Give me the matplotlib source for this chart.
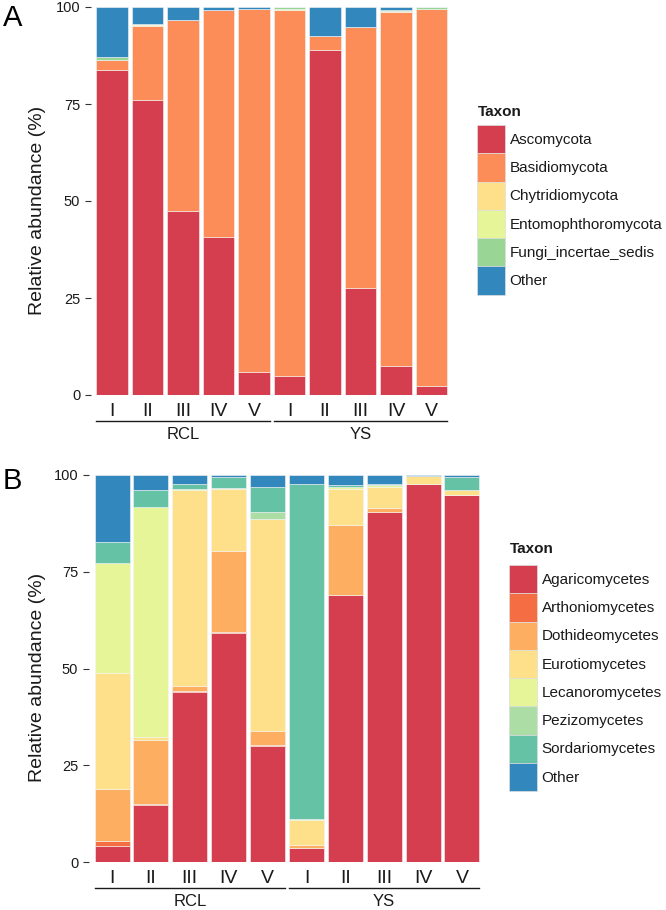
import matplotlib
matplotlib.use("Agg")
import matplotlib.pyplot as plt
import matplotlib.transforms as mtransforms
from matplotlib.patches import Patch

plt.rcParams['font.family'] = ['Liberation Sans', 'DejaVu Sans']

samples = ['I', 'II', 'III', 'IV', 'V', 'I', 'II', 'III', 'IV', 'V']
groups = ['RCL', 'YS']

# panel A: phylum level (%)
taxa_a = ['Ascomycota', 'Basidiomycota', 'Chytridiomycota',
          'Entomophthoromycota', 'Fungi_incertae_sedis', 'Other']
ascomycota = [83.8, 76.1, 47.3, 40.6, 5.9, 4.9, 88.9, 27.5, 7.5, 2.3]
basidiomycota = [2.6, 19.0, 49.4, 58.6, 93.7, 94.3, 3.6, 67.4, 91.2, 97.3]
chytridiomycota = [0.0, 0.3, 0.0, 0.0, 0.0, 0.1, 0.0, 0.0, 0.2, 0.0]
entomophthoromycota = [0.0, 0.3, 0.0, 0.0, 0.0, 0.2, 0.0, 0.0, 0.0, 0.0]
fungi_incertae = [0.8, 0.0, 0.0, 0.0, 0.0, 0.4, 0.0, 0.0, 0.3, 0.4]
other_a = [12.8, 4.3, 3.3, 0.8, 0.4, 0.1, 7.5, 5.1, 0.8, 0.0]
colors_a = ['#D53E4F', '#FC8D59', '#FEE08B', '#E6F598', '#99D594', '#3288BD']

# panel B: class level (%)
taxa_b = ['Agaricomycetes', 'Arthoniomycetes', 'Dothideomycetes', 'Eurotiomycetes',
          'Lecanoromycetes', 'Pezizomycetes', 'Sordariomycetes', 'Other']
agaricomycetes = [4.2, 14.6, 43.8, 59.2, 30.0, 3.5, 69.1, 90.4, 97.7, 94.8]
arthoniomycetes = [1.1, 0.3, 0.3, 0.2, 0.3, 0.0, 0.0, 0.0, 0.0, 0.0]
dothideomycetes = [13.5, 16.5, 1.5, 21.0, 3.5, 0.8, 18.1, 1.1, 0.0, 0.0]
eurotiomycetes = [30.0, 1.0, 50.4, 15.9, 54.8, 6.5, 9.1, 5.3, 2.0, 1.3]
lecanoromycetes = [28.5, 59.3, 0.3, 0.3, 0.0, 0.3, 0.7, 0.5, 0.0, 0.0]
pezizomycetes = [0.0, 0.0, 0.0, 0.0, 1.8, 0.0, 0.0, 0.0, 0.0, 0.0]
sordariomycetes = [5.4, 4.4, 1.5, 2.9, 6.5, 86.7, 0.4, 0.3, 0.0, 3.3]
other_b = [17.3, 3.9, 2.2, 0.5, 3.1, 2.2, 2.6, 2.4, 0.3, 0.6]
colors_b = ['#D53E4F', '#F46D43', '#FDAE61', '#FEE08B',
            '#E6F598', '#ABDDA4', '#66C2A5', '#3288BD']

W, H = 666, 910


def stacked(ax, series, colors, ylab_x):
    x = list(range(len(samples)))
    bottom = [0.0] * len(samples)
    for vals, c in zip(series, colors):
        ax.bar(x, vals, bottom=bottom, width=0.9, color=c,
               edgecolor='#f4f4f4', linewidth=0.4)
        bottom = [b + v for b, v in zip(bottom, vals)]

    ax.set_xlim(-0.6, len(samples) - 0.4)
    ax.set_ylim(0, 100)
    ax.set_yticks([0, 25, 50, 75, 100])
    ax.tick_params(axis='y', length=4, width=0.8, color='#333333',
                   labelsize=10.5, pad=3.5, labelcolor='#1a1a1a')
    ax.set_xticks(x)
    ax.set_xticklabels(samples, fontsize=14, color='#1a1a1a')
    ax.tick_params(axis='x', length=0, pad=6)
    for s in ax.spines.values():
        s.set_visible(False)
    ax.set_ylabel('Relative abundance (%)', fontsize=14, color='#1a1a1a')
    ax.yaxis.set_label_coords(ylab_x, 0.476)

    # group brackets under the sample labels
    tr = mtransforms.blended_transform_factory(ax.transData, ax.transAxes)
    for gi, g in enumerate(groups):
        x0 = gi * 5 - 0.45
        x1 = gi * 5 + 4 + 0.45
        ax.plot([x0, x1], [-0.068, -0.068], transform=tr, color='#1a1a1a',
                lw=1.0, clip_on=False)
        ax.text((x0 + x1) / 2, -0.102, g, transform=tr, ha='center', va='center',
                fontsize=12, color='#1a1a1a')

    return [Patch(facecolor=c, edgecolor='#dddddd', linewidth=0.5) for c in colors]


def legend(handles, labels, left, key_top, title_y):
    fig.text((left + 1) / W, 1 - title_y / H, 'Taxon', fontsize=11, fontweight='bold',
             ha='left', va='center', color='#1a1a1a')
    fig.legend(handles, labels, loc='upper left',
               bbox_to_anchor=(left / W, 1 - key_top / H), frameon=False,
               fontsize=11, handlelength=1.84, handleheight=2.47,
               labelspacing=0.0, handletextpad=0.3, borderpad=0.0,
               borderaxespad=0.0, labelcolor='#1a1a1a')


fig = plt.figure(figsize=(6.66, 9.10), dpi=100)

ax_a = fig.add_axes([90.7 / W, 1 - 395 / H, (452.8 - 90.7) / W, 388 / H])
h_a = stacked(ax_a, [ascomycota, basidiomycota, chytridiomycota,
                     entomophthoromycota, fungi_incertae, other_a], colors_a, -0.123)
legend(h_a, taxa_a, 477, 125, 112.5)

ax_b = fig.add_axes([88.7 / W, 1 - 862 / H, (485.3 - 88.7) / W, 387 / H])
h_b = stacked(ax_b, [agaricomycetes, arthoniomycetes, dothideomycetes, eurotiomycetes,
                     lecanoromycetes, pezizomycetes, sordariomycetes, other_b],
              colors_b, -0.107)
legend(h_b, taxa_b, 509, 565, 549)

fig.text(3 / W, 1 - 17.5 / H, 'A', fontsize=21, va='center', ha='left')
fig.text(3 / W, 1 - 481 / H, 'B', fontsize=21, va='center', ha='left')

fig.savefig('out.png', dpi=100, facecolor='white')
